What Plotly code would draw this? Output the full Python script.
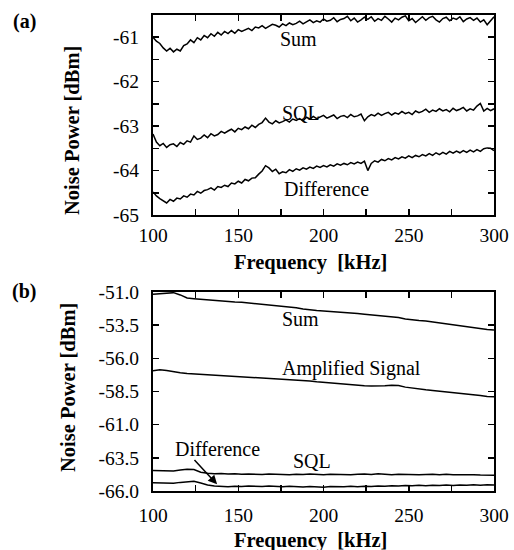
import plotly.graph_objects as go

# ---------------- data: panel (a) ----------------
freq_a = list(range(100, 301, 2))
sum_a = [-61.00, -61.09, -61.14, -61.24, -61.31, -61.25, -61.33, -61.27, -61.31, -61.19,
         -61.15, -61.06, -61.12, -61.01, -61.06, -60.96, -61.01, -60.92, -60.98, -60.89,
         -60.95, -60.87, -60.92, -60.85, -60.91,
         -60.83, -60.87, -60.84, -60.80, -60.85, -60.77, -60.79, -60.74, -60.80, -60.76,
         -60.71, -60.73, -60.77, -60.70, -60.74, -60.68, -60.72, -60.69, -60.64, -60.70,
         -60.66, -60.61, -60.67, -60.63, -60.66, -60.59, -60.64, -60.62, -60.56, -60.65,
         -60.60, -60.58, -60.53, -60.63, -60.57, -60.66, -60.61, -60.55, -60.60, -60.54,
         -60.64, -60.58, -60.62, -60.53, -60.59, -60.66, -60.57, -60.61, -60.55, -60.52,
         -60.63, -60.58, -60.67, -60.60, -60.54, -60.62, -60.56, -60.53, -60.61, -60.66,
         -60.58, -60.55, -60.63, -60.57, -60.60, -60.54, -60.65, -60.59, -60.56, -60.62,
         -60.57, -60.66, -60.61, -60.72, -60.64, -60.54]
sql_a = [-63.18, -63.36, -63.44, -63.39, -63.48, -63.42, -63.40, -63.46, -63.37, -63.41,
         -63.33, -63.36, -63.22, -63.30, -63.27, -63.20, -63.26, -63.17, -63.22, -63.19,
         -63.12, -63.16, -63.11, -63.07, -63.13, -63.05, -63.08, -63.02, -63.06, -62.98,
         -63.03, -62.96, -62.92, -62.82, -62.91, -62.95, -62.88, -62.93, -62.90, -62.86,
         -62.91, -62.84, -62.87, -62.83, -62.88, -62.80, -62.84, -62.78, -62.83, -62.80,
         -62.76, -62.82, -62.79, -62.75, -62.83, -62.78, -62.76, -62.81, -62.74, -62.79,
         -62.77, -62.73, -62.88, -62.79, -62.74, -62.77, -62.71, -62.76, -62.72, -62.69,
         -62.75, -62.70, -62.73, -62.67, -62.72, -62.69, -62.74, -62.66, -62.70, -62.67,
         -62.62, -62.69, -62.64, -62.67, -62.61, -62.66, -62.63, -62.68, -62.60, -62.65,
         -62.62, -62.58, -62.66, -62.61, -62.64, -62.55, -62.49, -62.66, -62.60, -62.65,
         -62.61]
diff_a = [-64.48, -64.57, -64.63, -64.68, -64.73, -64.65, -64.69, -64.62, -64.64, -64.57,
          -64.60, -64.53, -64.55, -64.47, -64.51, -64.45, -64.43, -64.39, -64.44, -64.36,
          -64.38, -64.33, -64.36, -64.28, -64.30, -64.24, -64.28, -64.20, -64.23, -64.17,
          -64.16, -64.08, -64.01, -63.89, -63.94, -64.02, -63.97, -64.07, -64.03, -64.05,
          -63.98, -64.02, -63.96, -63.99, -63.94, -63.97, -63.92, -63.95, -63.90, -63.93,
          -63.89, -63.92, -63.87, -63.90, -63.85, -63.88, -63.84, -63.87, -63.82, -63.85,
          -63.81, -63.84, -63.79, -64.00, -63.84, -63.78, -63.81, -63.75, -63.78, -63.73,
          -63.76, -63.71, -63.74, -63.69, -63.72, -63.67, -63.71, -63.66, -63.69, -63.64,
          -63.67, -63.62, -63.66, -63.60, -63.64, -63.59, -63.63, -63.57, -63.61, -63.56,
          -63.60, -63.55, -63.59, -63.54, -63.58, -63.53, -63.57, -63.51, -63.49, -63.50,
          -63.55]

# ---------------- data: panel (b) ----------------
freq_b = list(range(100, 301, 4))
sum_b = [-51.17, -51.12, -51.08, -51.05, -51.22, -51.45, -51.50, -51.55, -51.58, -51.62,
         -51.66, -51.70, -51.75, -51.78, -51.83, -51.86, -51.90, -51.95, -52.00, -52.05,
         -52.12, -52.18, -52.28, -52.36, -52.40, -52.43, -52.46, -52.49, -52.53, -52.58,
         -52.62, -52.68, -52.73, -52.77, -52.82, -52.87, -52.93, -53.03, -53.10, -53.14,
         -53.18, -53.25, -53.33, -53.42, -53.50, -53.56, -53.63, -53.70, -53.76, -53.82,
         -53.86]
amp_b = [-56.93, -56.86, -56.92, -57.02, -57.08, -57.14, -57.17, -57.22, -57.21, -57.27,
         -57.31, -57.30, -57.36, -57.40, -57.42, -57.45, -57.47, -57.50, -57.53, -57.55,
         -57.58, -57.61, -57.65, -57.70, -57.76, -57.81, -57.87, -57.92, -57.97, -58.01,
         -58.04, -58.07, -58.09, -58.10, -58.07, -58.03, -58.05, -58.17, -58.25, -58.31,
         -58.37, -58.42, -58.47, -58.51, -58.57, -58.63, -58.68, -58.74, -58.81, -58.87,
         -58.89]
sql_b = [-64.45, -64.48, -64.52, -64.50, -64.42, -64.36, -64.38, -64.58, -64.66, -64.70,
         -64.68, -64.72, -64.70, -64.74, -64.71, -64.73, -64.76, -64.72, -64.75, -64.73,
         -64.77, -64.74, -64.76, -64.72, -64.75, -64.77, -64.73, -64.76, -64.74, -64.78,
         -64.74, -64.72, -64.76, -64.70, -64.74, -64.77, -64.73, -64.76, -64.74, -64.78,
         -64.75, -64.73, -64.77, -64.74, -64.78, -64.76, -64.79, -64.77, -64.80, -64.78,
         -64.81]
diff_b = [-65.38, -65.40, -65.44, -65.42, -65.35, -65.28, -65.26, -65.40, -65.55, -65.62,
          -65.66, -65.68, -65.64, -65.66, -65.62, -65.65, -65.67, -65.63, -65.66, -65.68,
          -65.64, -65.67, -65.70, -65.66, -65.69, -65.71, -65.67, -65.70, -65.68, -65.65,
          -65.68, -65.64, -65.66, -65.62, -65.64, -65.60, -65.63, -65.58, -65.61, -65.57,
          -65.60, -65.56, -65.59, -65.55, -65.58, -65.54, -65.57, -65.53, -65.56, -65.52,
          -65.55]

# ---------------- tick labels ----------------
x_tickvals = [100, 125, 150, 175, 200, 225, 250, 275, 300]
x_ticktext = ["100", "", "150", "", "200", "", "250", "", "300"]
ya_tickvals = [-65, -64.5, -64, -63.5, -63, -62.5, -62, -61.5, -61, -60.5]
ya_ticktext = ["-65", "", "-64", "", "-63", "", "-62", "", "-61", ""]
yb_tickvals = [-66.0, -63.5, -61.0, -58.5, -56.0, -53.5, -51.0]
yb_ticktext = ["-66.0", "-63.5", "-61.0", "-58.5", "-56.0", "-53.5", "-51.0"]

SERIF = "Liberation Serif"
W, H = 514, 550
ML, MR, MT, MB = 153, 20, 15, 59
PH = H - MT - MB

fig = go.Figure()
line = dict(color="black", width=1.5)
for ys in (sum_a, sql_a, diff_a):
    fig.add_trace(go.Scatter(x=freq_a, y=ys, mode="lines", line=line,
                             xaxis="x", yaxis="y", showlegend=False, hoverinfo="skip"))
for ys in (sum_b, amp_b, sql_b, diff_b):
    fig.add_trace(go.Scatter(x=freq_b, y=ys, mode="lines", line=line,
                             xaxis="x2", yaxis="y2", showlegend=False, hoverinfo="skip"))

axis_common = dict(showline=True, linecolor="black", linewidth=2, mirror="ticks",
                   ticks="inside", ticklen=6, tickwidth=1.5, tickcolor="black",
                   showgrid=False, zeroline=False, automargin=False, fixedrange=True,
                   tickfont=dict(family=SERIF, size=19.5, color="black"))

dom_a = [1 - 200 / PH, 1]
dom_b = [0, 199 / PH]

fig.update_layout(
    template="none",
    width=W, height=H, autosize=False,
    margin=dict(l=ML, r=MR, t=MT, b=MB, pad=0),
    paper_bgcolor="white", plot_bgcolor="white",
    xaxis=dict(axis_common, domain=[0, 1], anchor="y", range=[100, 300],
               tickmode="array", tickvals=x_tickvals, ticktext=x_ticktext,
               ticklabelstandoff=2),
    yaxis=dict(axis_common, domain=dom_a, anchor="x", range=[-65, -60.5],
               tickmode="array", tickvals=ya_tickvals, ticktext=ya_ticktext,
               ticklabelstandoff=8),
    xaxis2=dict(axis_common, domain=[0, 1], anchor="y2", range=[100, 300],
                tickmode="array", tickvals=x_tickvals, ticktext=x_ticktext,
                ticklabelstandoff=6),
    yaxis2=dict(axis_common, domain=dom_b, anchor="x2", range=[-66, -51],
                tickmode="array", tickvals=yb_tickvals, ticktext=yb_ticktext,
                ticklabelstandoff=8),
)

txt = dict(family=SERIF, size=20, color="black")
bold = dict(family=SERIF, size=20.5, color="black", weight="bold")

def px_x(px):
    return (px - ML) / (W - ML - MR)

def px_y(py):
    return (H - MB - py) / PH

C = dict(xanchor="center", yanchor="middle", showarrow=False)
ann = []
# curve labels panel (a)
ann.append(dict(C, x=185.5, y=-61.05, xref="x", yref="y", text="Sum", font=txt))
ann.append(dict(C, x=187, y=-62.7, xref="x", yref="y", text="SQL", font=txt))
ann.append(dict(C, x=202, y=-64.42, xref="x", yref="y", text="Difference", font=txt))
# curve labels panel (b)
ann.append(dict(C, x=186.7, y=-53.0, xref="x2", yref="y2", text="Sum", font=txt))
ann.append(dict(C, x=216.6, y=-56.8, xref="x2", yref="y2", text="Amplified Signal", font=txt))
ann.append(dict(C, x=138, y=-62.8, xref="x2", yref="y2", text="Difference", font=txt))
ann.append(dict(C, x=193.5, y=-63.75, xref="x2", yref="y2", text="SQL", font=txt))
# arrow to the Difference curve in (b)
ann.append(dict(x=137.6, y=-65.5, xref="x2", yref="y2", ax=123.5, ay=-63.55,
                axref="x2", ayref="y2", text="", showarrow=True, arrowhead=2,
                arrowsize=1.2, arrowwidth=1.5, arrowcolor="black"))
# axis titles
for cx, cy in ((72, 131), (68, 388)):
    ann.append(dict(C, x=px_x(cx), y=px_y(cy), xref="paper", yref="paper",
                    text="Noise Power [dBm]", textangle=-90, font=bold))
for cy in (262, 540):
    ann.append(dict(C, x=px_x(310), y=px_y(cy), xref="paper", yref="paper",
                    text="Frequency  [kHz]", font=bold))
# panel letters
pl = dict(family=SERIF, size=20, color="black", weight="bold")
ann.append(dict(C, x=px_x(24), y=px_y(22), xref="paper", yref="paper", text="(a)", font=pl))
ann.append(dict(C, x=px_x(24), y=px_y(292), xref="paper", yref="paper", text="(b)", font=pl))

fig.update_layout(annotations=ann)
fig.write_html("out.html", config={"displayModeBar": False, "staticPlot": True},
               post_script="document.body.style.margin='0';document.body.style.overflow='hidden';")
